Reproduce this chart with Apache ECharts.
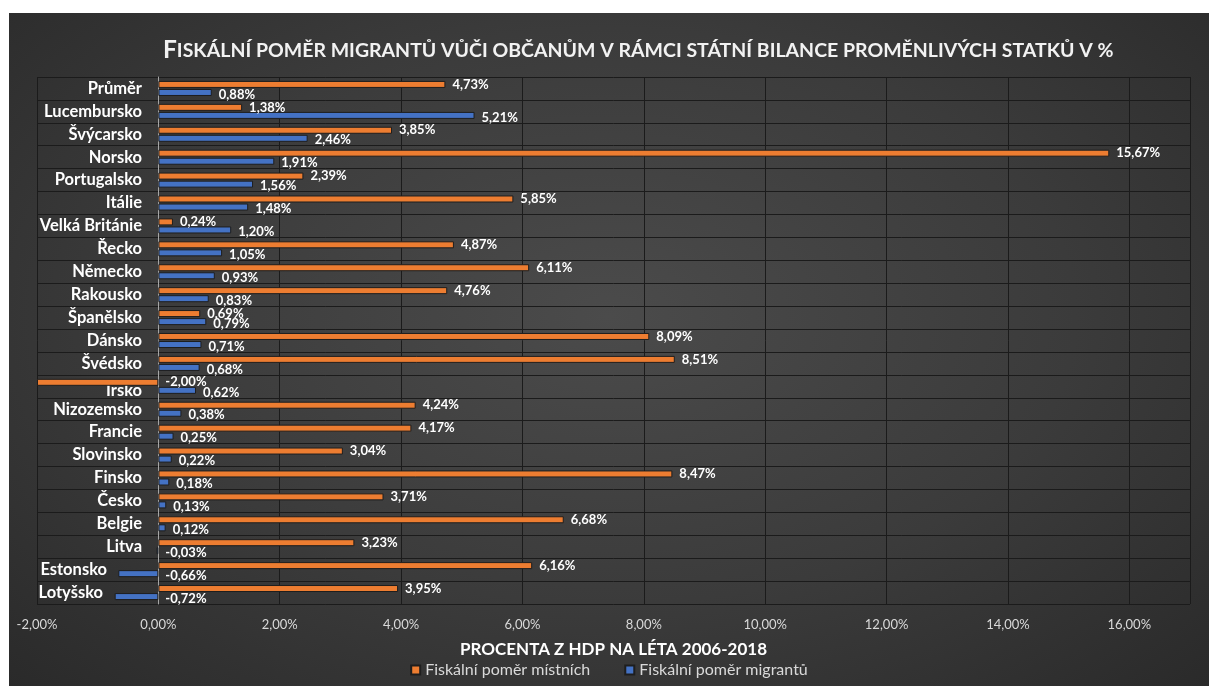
<!DOCTYPE html>
<html>
<head>
<meta charset="utf-8">
<script src="https://cdn.jsdelivr.net/npm/echarts@6/dist/echarts.min.js"></script>
<style>
html, body { margin: 0; padding: 0; background: #fff; }
#chart {
    position: absolute; left: 9px; top: 13px; width: 1200px; height: 673px;
    background: radial-gradient(ellipse at 50% 45%, #4b4b4b 0%, #3b3b3b 55%, #2a2a2a 100%);
}
</style>
</head>
<body>
<div id="chart"></div>
<script>
// kategorie shora dolu
const categories = ['Průměr', 'Lucembursko', 'Švýcarsko', 'Norsko', 'Portugalsko', 'Itálie',
    'Velká Británie', 'Řecko', 'Německo', 'Rakousko', 'Španělsko', 'Dánsko', 'Švédsko', 'Irsko',
    'Nizozemsko', 'Francie', 'Slovinsko', 'Finsko', 'Česko', 'Belgie', 'Litva', 'Estonsko', 'Lotyšsko'];

const mistni = [4.73, 1.38, 3.85, 15.67, 2.39, 5.85, 0.24, 4.87, 6.11, 4.76, 0.69, 8.09, 8.51, -2.00,
    4.24, 4.17, 3.04, 8.47, 3.71, 6.68, 3.23, 6.16, 3.95];

const migranti = [0.88, 5.21, 2.46, 1.91, 1.56, 1.48, 1.20, 1.05, 0.93, 0.83, 0.79, 0.71, 0.68, 0.62,
    0.38, 0.25, 0.22, 0.18, 0.13, 0.12, -0.03, -0.66, -0.72];

const xMin = -2, xMax = 17, xStep = 2;

const fmt = v => v.toFixed(2).replace('.', ',') + '%';
const font = 'Lato';

// sirka plochy grafu pro posun popisku u zapornych modrych sloupcu
const gridLeft = 28, gridRight = 19, chartW = 1200;
const pxPerUnit = (chartW - gridLeft - gridRight) / (xMax - xMin);

let rich = {};
categories.forEach((c, i) => {
    let pad = 0, top = 0;
    if (migranti[i] < -0.1) pad = Math.round(-migranti[i] * pxPerUnit - 5);
    if (mistni[i] < 0) top = 8;
    rich['c' + i] = {
        color: '#ffffff', fontWeight: 'bold', fontSize: 16.5, fontFamily: font,
        padding: [top, pad, 0, 0]
    };
});

let myChart = echarts.init(document.getElementById('chart'));

const barLabel = (dy) => ({
    show: true,
    position: 'right',
    distance: 7,
    offset: [0, dy],
    color: '#ffffff',
    fontWeight: 'bold',
    fontSize: 13,
    fontFamily: font,
    formatter: p => fmt(p.value)
});

myChart.setOption({
    textStyle: { fontFamily: font },
    title: {
        text: '{big|F}{small|ISKÁLNÍ POMĚR MIGRANTŮ VŮČI OBČANŮM V RÁMCI STÁTNÍ BILANCE PROMĚNLIVÝCH STATKŮ V %}',
        left: 149,
        top: 20,
        textStyle: {
            rich: {
                big: { fontFamily: font, fontWeight: 'bold', fontSize: 24.5, color: '#f2f2f2' },
                small: { fontFamily: font, fontWeight: 'bold', fontSize: 19.5, color: '#f2f2f2' }
            }
        }
    },
    legend: {
        bottom: 3,
        left: 'center',
        icon: 'rect',
        itemWidth: 9,
        itemHeight: 9,
        itemGap: 34,
        textStyle: { color: '#d9d9d9', fontSize: 16, fontFamily: font },
        data: ['Fiskální poměr místních', 'Fiskální poměr migrantů']
    },
    grid: {
        left: gridLeft,
        right: gridRight,
        top: 64,
        bottom: 82,
        outerBoundsMode: 'none',
        containLabel: false
    },
    xAxis: {
        type: 'value',
        min: xMin,
        max: xMax,
        interval: xStep,
        name: 'PROCENTA Z HDP NA LÉTA 2006-2018',
        nameLocation: 'middle',
        nameGap: 37,
        nameTextStyle: { color: '#ffffff', fontWeight: 'bold', fontSize: 17, fontFamily: font },
        axisLine: { show: false },
        axisTick: { show: false },
        axisLabel: {
            color: '#d9d9d9',
            fontSize: 13,
            margin: 14,
            showMaxLabel: false,
            formatter: v => fmt(v)
        },
        splitLine: { show: true, lineStyle: { color: '#1b1b1b', width: 1 } }
    },
    yAxis: {
        type: 'category',
        data: categories,
        inverse: true,
        axisLine: { show: true, onZero: true, lineStyle: { color: '#a6a6a6', width: 1 } },
        axisTick: { show: false },
        axisLabel: {
            interval: 0,
            color: '#ffffff',
            fontWeight: 'bold',
            fontSize: 16.5,
            margin: -105,
            fontFamily: font,
            formatter: (v, i) => '{c' + i + '|' + v + '}',
            rich: rich
        },
        splitLine: { show: true, interval: 0, lineStyle: { color: '#1b1b1b', width: 1 } }
    },
    series: [
        {
            name: 'Fiskální poměr místních',
            type: 'bar',
            data: mistni,
            barWidth: 7,
            barGap: '15%',
            itemStyle: { color: '#ED7D31', borderColor: '#1e1e1e', borderWidth: 1 },
            label: barLabel(0)
        },
        {
            name: 'Fiskální poměr migrantů',
            type: 'bar',
            data: migranti,
            barWidth: 7,
            itemStyle: { color: '#4472C4', borderColor: '#1e1e1e', borderWidth: 1 },
            label: barLabel(2)
        }
    ]
});
</script>
</body>
</html>
